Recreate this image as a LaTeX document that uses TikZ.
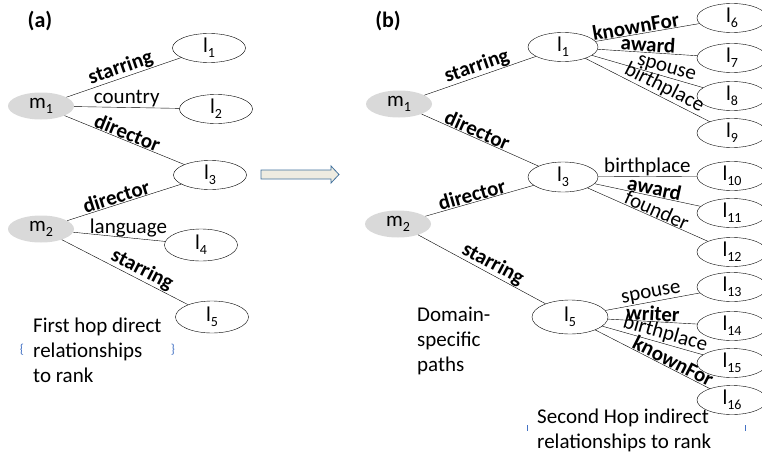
\documentclass[tikz,border=0pt]{standalone}
\usepackage{fontspec}
\setmainfont{Carlito}
\usepackage{tikz}
\usetikzlibrary{shapes.geometric}

\definecolor{bracecol}{HTML}{4472C4}
\definecolor{arrowfill}{HTML}{EEECE1}
\definecolor{arrowline}{HTML}{41719C}
\newcommand{\lsub}[2]{#1\raisebox{-0.5ex}{\fontsize{14}{14}\selectfont #2}}

\begin{document}
\begin{tikzpicture}[x=1pt,y=-1pt,every node/.style={font=\fontsize{21}{25}\selectfont},ent/.style={ellipse,draw,minimum width=73pt,minimum height=29pt,inner sep=0pt},mov/.style={ellipse,fill=black!15,minimum width=66pt,minimum height=27pt,inner sep=0pt},rel/.style={sloped,above,inner sep=0.5pt},relb/.style={rel,font=\fontsize{21}{25}\selectfont\bfseries}]
\clip (0,0) rectangle (762,460);
% panel (a)
\node[font=\fontsize{22}{24}\selectfont\bfseries] (tita) at (40,21) {(a)};
\node[mov] (am1) at (41,106) {\lsub{m}{1}};
\node[mov] (am2) at (41,229) {\lsub{m}{2}};
\node[ent] (al1) at (209,48) {\lsub{l}{1}};
\node[ent] (al2) at (216,109) {\lsub{l}{2}};
\node[ent] (al3) at (210,175) {\lsub{l}{3}};
\node[ent,minimum height=32pt] (al4) at (201,245) {\lsub{l}{4}};
\node[ent,minimum height=32pt] (al5) at (212,317) {\lsub{l}{5}};
\draw (am1) -- node[relb] {starring} (al1);
\draw (am1) -- node[above,inner sep=0.5pt] {country} (al2);
\draw (am1) -- node[relb] {director} (al3);
\draw (am2) -- node[relb,pos=.45] {director} (al3);
\draw (am2) -- node[above,inner sep=0.5pt,pos=.6] {language} (al4);
\draw (am2) -- node[relb,pos=.6] {starring} (al5);
\node[align=left,anchor=west,inner sep=0pt] (firsthop) at (33,350) {First hop direct\\relationships\\to rank};
\node[text=bracecol,font=\fontsize{13}{13}\selectfont] (lbrace) at (22,350) {\{};
\node[text=bracecol,font=\fontsize{13}{13}\selectfont] (rbrace) at (173,350) {\}};
% block arrow
\draw[arrowline,fill=arrowfill,line width=0.8pt] (261,170) -- (331,170) -- (331,166) -- (339,174.5) -- (331,183) -- (331,179) -- (261,179) -- cycle;
% panel (b)
\node[font=\fontsize{22}{24}\selectfont\bfseries] (titb) at (388,21) {(b)};
\node[mov] (bm1) at (399,104) {\lsub{m}{1}};
\node[mov] (bm2) at (398,224) {\lsub{m}{2}};
\node[ent,minimum width=70pt] (bl1) at (563,47) {\lsub{l}{1}};
\node[ent,minimum width=70pt,minimum height=30pt] (bl3) at (563,177) {\lsub{l}{3}};
\node[ent,minimum width=76pt,minimum height=34pt] (bl5) at (570,317) {\lsub{l}{5}};
\foreach \n/\y in {6/18,7/58,8/96,9/133,10/176,11/213,12/252,13/287,14/326,15/363,16/400}
   \node[ent,minimum width=70pt] (l\n) at (732,\y) {\lsub{l}{\n}};
\draw (bm1) -- node[relb] {starring} (bl1);
\draw (bm1) -- node[relb,pos=.45] {director} (bl3);
\draw (bm2) -- node[relb,pos=.45] {director} (bl3);
\draw (bm2) -- node[relb,pos=.55] {starring} (bl5);
\foreach \t/\r/\st/\ps in {6/knownFor/relb/.4,7/award/relb/.5,8/spouse/rel/.65,9/birthplace/rel/.6}
   \draw (bl1) -- node[\st,pos=\ps] {\r} (l\t);
\foreach \t/\r/\st/\ps in {10/birthplace/rel/.5,11/award/relb/.55,12/founder/rel/.55}
   \draw (bl3) -- node[\st,pos=\ps] {\r} (l\t);
\foreach \t/\r/\st/\ps in {13/spouse/rel/.5,14/writer/relb/.5,15/birthplace/rel/.6,16/knownFor/relb/.65}
   \draw (bl5) -- node[\st,pos=\ps] {\r} (l\t);
\node[align=left,anchor=west,inner sep=0pt] (domain) at (417,341) {Domain-\\specific\\paths};
\node[align=left,anchor=west,inner sep=0pt] (secondhop) at (537,430) {Second Hop indirect\\relationships to rank};
\draw[bracecol,line width=0.8pt] (527,425) -- (527,431);
\draw[bracecol,line width=0.8pt] (745,425) -- (745,431);
\end{tikzpicture}
\end{document}
